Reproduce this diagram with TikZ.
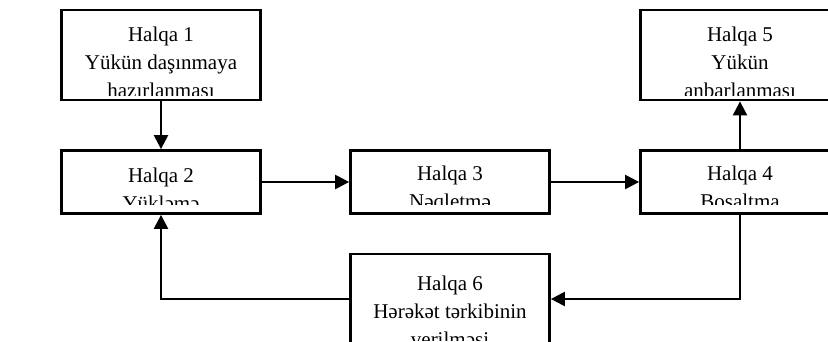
\documentclass[tikz,border=0pt]{standalone}
\usepackage{fontspec}
\setmainfont{Liberation Serif}
\usetikzlibrary{arrows.meta}

\begin{document}
\begin{tikzpicture}[x=1pt,y=-1pt,
	kes/.store in=\halqakes, kes=4pt,
	yaz/.store in=\halqayaz, yaz=-6pt,
	halqa/.style={draw, line width=2.8pt, minimum width=199pt, inner sep=0pt,
		path picture={
			\clip (path picture bounding box.north west) rectangle ([yshift=\halqakes]path picture bounding box.south east);
			\node[anchor=north, align=center, inner sep=0pt, font=\fontsize{21}{28}\selectfont] at ([yshift=\halqayaz]path picture bounding box.north) {#1};}}]
	\tikzstyle{ox}=[line width=2.4pt, -{Triangle[length=14pt, width=14pt]}]
	\clip (0,0) rectangle (828,342);
	% halqalar
	\node[halqa={Halqa 1\\Yükün daşınmaya\\hazırlanması}, minimum height=90pt] (h1) at (161,55) {};
	\node[halqa={Halqa 2\\Yükləmə}, minimum height=63pt, kes=9pt] (h2) at (161,182) {};
	\node[halqa={Halqa 3\\Nəqletmə}, minimum height=63pt, kes=9pt] (h3) at (450,182) {};
	\node[halqa={Halqa 4\\Boşaltma}, minimum height=63pt, kes=9pt] (h4) at (740,182) {};
	\node[halqa={Halqa 5\\Yükün\\anbarlanması}, minimum height=90pt] (h5) at (740,55) {};
	\node[halqa={Halqa 6\\Hərəkət tərkibinin\\verilməsi}, minimum height=90pt, yaz=-11pt] (h6) at (450,299) {};
	% oxlar
	\draw[ox] (h1.south) -- (h2.north);
	\draw[ox] (h2.east) -- (h3.west);
	\draw[ox] (h3.east) -- (h4.west);
	\draw[ox] (h4.north) -- (h5.south);
	\draw[ox] (h4.south) |- (h6.east);
	\draw[ox] (h6.west) -| (h2.south);
\end{tikzpicture}
\end{document}
